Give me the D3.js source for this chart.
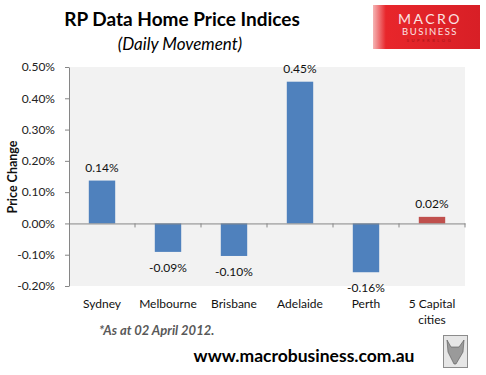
<!DOCTYPE html>
<html>
<head>
<meta charset="utf-8">
<script src="https://cdn.jsdelivr.net/npm/d3@7"></script>
<style>
  body { margin: 0; background: #fff; }
  svg text { font-family: Lato, "Open Sans", sans-serif; }
</style>
</head>
<body>
<div id="chart"></div>
<script>
// chart data
var cities = ["Sydney", "Melbourne", "Brisbane", "Adelaide", "Perth", "5 Capital|cities"];
var movement = [0.137, -0.091, -0.104, 0.453, -0.156, 0.021];
var barColors = ["#4f81bd", "#4f81bd", "#4f81bd", "#4f81bd", "#4f81bd", "#c0504d"];
var yTicks = [-0.2, -0.1, 0, 0.1, 0.2, 0.3, 0.4, 0.5];

var width = 486, height = 375;
var plot = { left: 69, right: 465, top: 67, bottom: 286 };

var svg = d3.select("#chart").append("svg")
  .attr("width", width)
  .attr("height", height);

// plot background
svg.append("rect")
  .attr("x", plot.left).attr("y", plot.top)
  .attr("width", plot.right - plot.left)
  .attr("height", plot.bottom - plot.top)
  .attr("fill", "#f2f2f2");

var x = d3.scaleBand()
  .domain(cities)
  .range([plot.left, plot.right])
  .paddingInner(0.6)
  .paddingOuter(0.3);

var xb = d3.scaleBand().domain(cities).range([plot.left, plot.right]);

var y = d3.scaleLinear()
  .domain([-0.2, 0.5])
  .range([plot.bottom, plot.top]);

// plain hyphen for negatives, like the original
var locale = d3.formatLocale({ decimal: ".", thousands: ",", grouping: [3], currency: ["$", ""], minus: "-" });
var fmt = function (d) { return locale.format(".2f")(d) + "%"; };

// bars
svg.selectAll(".bar")
  .data(movement)
  .enter().append("rect")
  .attr("class", "bar")
  .attr("x", function (d, i) { return x(cities[i]); })
  .attr("width", x.bandwidth())
  .attr("y", function (d) { return y(Math.max(0, d)); })
  .attr("height", function (d) { return Math.abs(y(d) - y(0)); })
  .attr("fill", function (d, i) { return barColors[i]; });

// y axis
var yAxis = svg.append("g")
  .attr("transform", "translate(" + plot.left + ",0)")
  .call(d3.axisLeft(y).tickValues(yTicks).tickSize(4).tickSizeOuter(0).tickFormat(fmt));
yAxis.select(".domain").attr("stroke", "#868686");
yAxis.selectAll(".tick line").attr("stroke", "#868686");
yAxis.selectAll(".tick text")
  .attr("x", -14)
  .attr("fill", "#222")
  .style("font-size", "12px");

// zero line with category ticks
var xAxis = svg.append("g")
  .attr("transform", "translate(0," + y(0) + ")")
  .call(d3.axisBottom(xb).tickSize(0).tickSizeOuter(0).tickFormat(""));
xAxis.select(".domain").attr("stroke", "#868686");
xAxis.selectAll(".sep")
  .data(cities)
  .enter().append("line")
  .attr("class", "sep")
  .attr("x1", function (d) { return xb(d) + xb.bandwidth(); })
  .attr("x2", function (d) { return xb(d) + xb.bandwidth(); })
  .attr("y1", 0).attr("y2", 4)
  .attr("stroke", "#868686");

// data labels
svg.selectAll(".lbl")
  .data(movement)
  .enter().append("text")
  .attr("class", "lbl")
  .attr("x", function (d, i) { return xb(cities[i]) + xb.bandwidth() / 2; })
  .attr("y", function (d) { return d >= 0 ? y(d) - 9 : y(d) + 20; })
  .attr("text-anchor", "middle")
  .style("font-size", "12px")
  .attr("fill", "#111")
  .text(function (d) { return fmt(d); });

// category labels
cities.forEach(function (c) {
  var parts = c.split("|");
  var t = svg.append("text")
    .attr("x", xb(c) + xb.bandwidth() / 2)
    .attr("y", 308)
    .attr("text-anchor", "middle")
    .style("font-size", "12px")
    .attr("fill", "#111");
  parts.forEach(function (p, i) {
    t.append("tspan")
      .attr("x", xb(c) + xb.bandwidth() / 2)
      .attr("dy", i === 0 ? 0 : 16)
      .text(p);
  });
});

// y axis title
svg.append("text")
  .attr("transform", "translate(17,177) rotate(-90)")
  .attr("text-anchor", "middle")
  .style("font-size", "12.5px")
  .style("font-weight", "bold")
  .attr("fill", "#111")
  .text("Price Change");

// titles
svg.append("text")
  .attr("x", 182).attr("y", 26)
  .attr("text-anchor", "middle")
  .style("font-size", "19px")
  .style("font-weight", "bold")
  .attr("fill", "#000")
  .text("RP Data Home Price Indices");

svg.append("text")
  .attr("x", 180).attr("y", 50)
  .attr("text-anchor", "middle")
  .style("font-size", "17px")
  .style("font-style", "italic")
  .attr("fill", "#000")
  .text("(Daily Movement)");

svg.append("text")
  .attr("x", 99).attr("y", 335)
  .style("font-size", "13px")
  .style("font-weight", "bold")
  .style("font-style", "italic")
  .attr("fill", "#595959")
  .text("*As at 02 April 2012.");

svg.append("text")
  .attr("x", 304).attr("y", 362)
  .attr("text-anchor", "middle")
  .style("font-size", "17.5px")
  .style("font-weight", "bold")
  .attr("fill", "#000")
  .text("www.macrobusiness.com.au");

// logo
var grad = svg.append("defs").append("linearGradient")
  .attr("id", "logoGrad")
  .attr("x1", "0").attr("x2", "1");
grad.append("stop").attr("offset", "0").attr("stop-color", "#f5b5b5");
grad.append("stop").attr("offset", "0.12").attr("stop-color", "#e8262b");
grad.append("stop").attr("offset", "1").attr("stop-color", "#d81f26");

var logo = svg.append("g");
logo.append("rect")
  .attr("x", 373).attr("y", 5)
  .attr("width", 107).attr("height", 44)
  .attr("fill", "url(#logoGrad)");
logo.append("text")
  .attr("x", 430).attr("y", 24)
  .attr("text-anchor", "middle")
  .style("font-size", "14px")
  .style("letter-spacing", "2.5px")
  .attr("fill", "#fbe3e3")
  .text("MACRO");
logo.append("text")
  .attr("x", 430).attr("y", 35)
  .attr("text-anchor", "middle")
  .style("font-size", "9.5px")
  .style("letter-spacing", "1.5px")
  .attr("fill", "#fbe3e3")
  .text("BUSINESS");
logo.append("text")
  .attr("x", 430).attr("y", 42)
  .attr("text-anchor", "middle")
  .style("font-size", "4px")
  .style("letter-spacing", "2.6px")
  .attr("fill", "#a01418")
  .text("SUPERBLOG");

// wolf badge placeholder
var badge = svg.append("g");
badge.append("rect")
  .attr("x", 443.5).attr("y", 335.5)
  .attr("width", 24).attr("height", 32)
  .attr("fill", "#e6e6e6")
  .attr("stroke", "#8c8c8c");
badge.append("path")
  .attr("d", "M447,340 L451,347 L459,347 L464,340 L463,352 L456,364 L454,364 L448,352 Z")
  .attr("fill", "#9a9a9a")
  .attr("stroke", "#555")
  .attr("stroke-width", 0.6);
</script>
</body>
</html>
